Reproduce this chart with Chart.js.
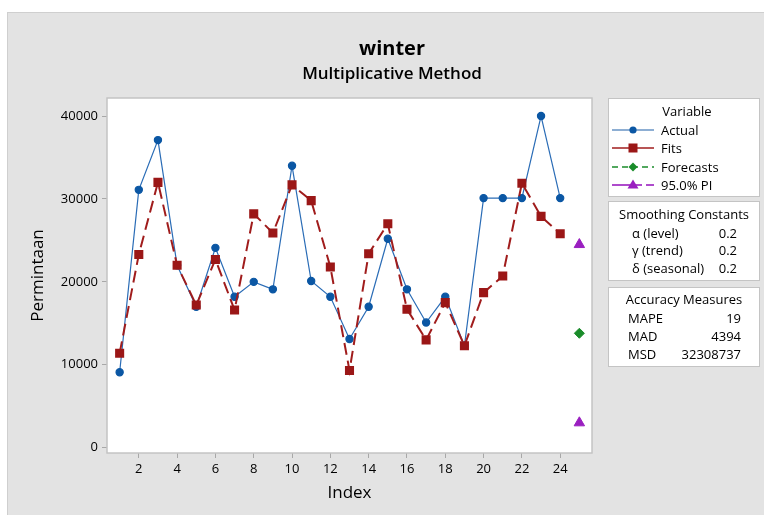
<!DOCTYPE html>
<html>
<head>
<meta charset="utf-8">
<script src="https://cdn.jsdelivr.net/npm/chart.js@4/dist/chart.umd.min.js"></script>
<style>
  html,body{margin:0;padding:0;background:#fff;}
  #wrap{position:relative;width:764px;height:515px;overflow:hidden;font-family:"Open Sans","Noto Sans",sans-serif;color:#000;}
  canvas{position:absolute;left:0;top:0;}
  .t{position:absolute;white-space:nowrap;line-height:18px;}
  .box{position:absolute;background:#fff;border:1px solid #c4c4c4;box-sizing:border-box;}
  .lg{position:absolute;font-size:13px;line-height:16px;white-space:nowrap;font-weight:500;}
</style>
</head>
<body>
<div id="wrap">
  <canvas id="c" width="764" height="515"></canvas>
  <div class="t" style="left:0;width:784px;text-align:center;top:36px;font-size:20px;font-weight:700;line-height:24px;">winter</div>
  <div class="t" style="left:0;width:784px;text-align:center;top:62px;font-size:17px;font-weight:600;line-height:22px;">Multiplicative Method</div>

  <div class="box" style="left:608px;top:98px;width:152px;height:99px;"></div>
  <div class="lg" style="left:608px;width:158px;text-align:center;top:103px;">Variable</div>
  <svg style="position:absolute;left:610px;top:122px" width="46" height="72">
    <line x1="2" y1="8" x2="44" y2="8" stroke="#1d5ea8" stroke-width="1.2"/>
    <circle cx="23" cy="8" r="3.6" fill="#0b57a4"/>
    <line x1="2" y1="26" x2="44" y2="26" stroke="#a01c1c" stroke-width="1.6"/>
    <rect x="18.5" y="21.5" width="9" height="9" fill="#9b1717"/>
    <line x1="2" y1="45" x2="44" y2="45" stroke="#1a8c2a" stroke-width="1.6" stroke-dasharray="6,4"/>
    <polygon points="23,40.5 27.5,45 23,49.5 18.5,45" fill="#1a8c2a"/>
    <line x1="2" y1="63" x2="32" y2="63" stroke="#9a1fc0" stroke-width="1.6"/>
    <line x1="36" y1="63" x2="44" y2="63" stroke="#9a1fc0" stroke-width="1.6"/>
    <polygon points="23,57.5 28.5,66.5 17.5,66.5" fill="#9a1fc0"/>
  </svg>
  <div class="lg" style="left:661px;top:122px;">Actual</div>
  <div class="lg" style="left:661px;top:140px;">Fits</div>
  <div class="lg" style="left:661px;top:159px;">Forecasts</div>
  <div class="lg" style="left:661px;top:177px;">95.0% PI</div>

  <div class="box" style="left:608px;top:201px;width:152px;height:80px;"></div>
  <div class="lg" style="left:608px;width:152px;text-align:center;top:206px;">Smoothing Constants</div>
  <div class="lg" style="left:632px;top:225px;">α (level)</div>
  <div class="lg" style="left:632px;top:242px;">γ (trend)</div>
  <div class="lg" style="left:632px;top:260px;">δ (seasonal)</div>
  <div class="lg" style="left:700px;width:37px;text-align:right;top:225px;">0.2</div>
  <div class="lg" style="left:700px;width:37px;text-align:right;top:242px;">0.2</div>
  <div class="lg" style="left:700px;width:37px;text-align:right;top:260px;">0.2</div>

  <div class="box" style="left:608px;top:287px;width:152px;height:80px;"></div>
  <div class="lg" style="left:608px;width:152px;text-align:center;top:291px;">Accuracy Measures</div>
  <div class="lg" style="left:628px;top:310px;">MAPE</div>
  <div class="lg" style="left:628px;top:328px;">MAD</div>
  <div class="lg" style="left:628px;top:346px;">MSD</div>
  <div class="lg" style="left:660px;width:81px;text-align:right;top:310px;">19</div>
  <div class="lg" style="left:660px;width:81px;text-align:right;top:328px;">4394</div>
  <div class="lg" style="left:660px;width:81px;text-align:right;top:346px;">32308737</div>
</div>
<script>
const index = [1,2,3,4,5,6,7,8,9,10,11,12,13,14,15,16,17,18,19,20,21,22,23,24];
const actual = [9100,31100,37100,22000,17000,24100,18200,20000,19100,34000,20100,18200,13100,17000,25200,19100,15100,18200,12300,30100,30100,30100,40000,30100];
const fits = [11400,23300,32000,22000,17200,22700,16600,28200,25900,31700,29800,21800,9300,23400,27000,16700,13000,17500,12300,18700,20700,31900,27900,25800];
const forecastIndex = [25];
const forecasts = [13800];
const piUpper = [24500];
const piLower = [3000];
const xTicks = [2,4,6,8,10,12,14,16,18,20,22,24];
const yTicks = [0,10000,20000,30000,40000];

const toXY = (xs, ys) => xs.map((x,i)=>({x:x, y:ys[i]}));

const bgPlugin = {
  id:'bg',
  beforeDraw(chart){
    const ctx = chart.ctx, a = chart.chartArea;
    ctx.save();
    ctx.fillStyle='#ffffff'; ctx.fillRect(0,0,chart.width,chart.height);
    ctx.fillStyle='#e3e3e3'; ctx.fillRect(7,12,chart.width-7,chart.height-12);
    ctx.strokeStyle='#cfcfcf'; ctx.lineWidth=1; ctx.strokeRect(7.5,12.5,chart.width,chart.height);
    ctx.fillStyle='#ffffff'; ctx.fillRect(a.left,a.top,a.right-a.left,a.bottom-a.top);
    ctx.restore();
  },
  afterDatasetsDraw(chart){
    const ctx = chart.ctx, a = chart.chartArea;
    ctx.save();
    ctx.strokeStyle='#c4c4c4'; ctx.lineWidth=1.5;
    ctx.strokeRect(a.left,a.top,a.right-a.left,a.bottom-a.top);
    ctx.restore();
  }
};

new Chart(document.getElementById('c'), {
  type:'line',
  data:{
    datasets:[
      {label:'Actual', data:toXY(index,actual), borderColor:'#2a6cb6', borderWidth:1.2, backgroundColor:'#0b57a4', pointBackgroundColor:'#0b57a4', pointBorderColor:'#0b57a4', pointRadius:3.6, pointStyle:'circle', tension:0, order:2},
      {label:'Fits', data:toXY(index,fits), borderColor:'#a01c1c', borderWidth:2, borderDash:[12,6], pointBackgroundColor:'#9b1717', pointBorderColor:'#9b1717', pointRadius:5, pointStyle:'rect', tension:0, order:1},
      {label:'Forecasts', data:toXY(forecastIndex,forecasts), showLine:false, pointBackgroundColor:'#1a8c2a', pointBorderColor:'#1a8c2a', pointRadius:5, pointStyle:'rectRot'},
      {label:'95.0% PI', data:toXY(forecastIndex.concat(forecastIndex), piUpper.concat(piLower)), showLine:false, pointBackgroundColor:'#9a1fc0', pointBorderColor:'#9a1fc0', pointRadius:6, pointStyle:'triangle'}
    ]
  },
  options:{
    responsive:false, animation:false, devicePixelRatio:1,
    layout:{padding:{left:10, top:98, right:172, bottom:10}},
    plugins:{legend:{display:false}, tooltip:{enabled:false}, title:{display:false}},
    scales:{
      x:{
        type:'linear', min:0.34, max:25.66,
        afterBuildTicks(s){ s.ticks = xTicks.map(v=>({value:v})); },
        afterFit(s){ s.height = 52; },
        grid:{drawOnChartArea:false, drawTicks:true, tickLength:5, tickColor:'#a8a8a8'},
        border:{display:false},
        ticks:{padding:3, color:'#000', font:{family:'"Open Sans"', size:13, weight:'500'}, maxRotation:0, autoSkip:false},
        title:{display:true, text:'Index', color:'#000', font:{family:'"Open Sans"', size:17, weight:'500'}, padding:{top:0,bottom:2}}
      },
      y:{
        type:'linear', min:-640, max:42175,
        afterBuildTicks(s){ s.ticks = yTicks.map(v=>({value:v})); },
        afterFit(s){ s.width = 97; },
        grid:{drawOnChartArea:false, drawTicks:true, tickLength:5, tickColor:'#a8a8a8'},
        border:{display:false},
        ticks:{padding:4, color:'#000', font:{family:'"Open Sans"', size:13, weight:'500'}, callback:v=>String(v)},
        title:{display:true, text:'Permintaan', color:'#000', font:{family:'"Open Sans"', size:17, weight:'500'}, padding:{top:18,bottom:0}}
      }
    }
  },
  plugins:[bgPlugin]
});
</script>
</body>
</html>
